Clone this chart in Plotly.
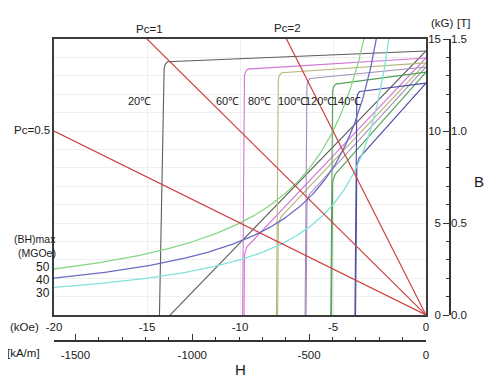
import numpy as np
import plotly.graph_objects as go

# ---------------- data ----------------
temps = ['20℃', '60℃', '80℃', '100℃', '120℃', '140℃']
br_kg = [14.35, 13.97, 13.70, 13.48, 13.20, 12.60]        # J = B at H = 0
jknee_kg = [13.80, 13.40, 13.20, 12.90, 12.60, 12.20]     # J just before the knee
hcj_koe = [-14.08, -9.76, -7.94, -6.40, -5.02, -3.72]     # knee (intrinsic coercivity)
hdrop_koe = [0.25, 0.10, 0.10, 0.10, 0.10, 0.10]          # drift of the drop down to J = 0
temp_label_h = [-15.42, -10.69, -8.97, -7.19, -5.74, -4.28]
temp_label_b = 11.64
temp_colors = ['#5c5c5c', '#d274d6', '#b6b67c', '#a38cba', '#55a055', '#4a4aa6']

bhmax_mgoe = [50, 40, 30]
bh_colors = ['#86d886', '#6c6cc4', '#84e2d8']

pc_values = [0.5, 1, 2]
pc_color = '#cc4242'

koe_ticks = [-20, -15, -10, -5, 0]
koe_labels = ['-20', '-15', '-10', '-5', '0']
kam_ticks = [-1500, -1000, -500, 0]
kam_labels = ['-1500', '-1000', '-500', '0']
kg_ticks = [0, 5, 10, 15]
t_ticks = [0, 0.5, 1.0, 1.5]
KAM_PER_KOE = 79.5775

# page has an 8 px body margin: draw a 492x372 figure placed at (8, 8)
OFF = 8
W, HGT = 492, 372
PL, PR, PT, PB = 54, 426, 39, 315   # plot box in window pixels


def px(x):
    return (x - OFF) / W


def py(y):
    return 1 - (y - OFF) / HGT


fig = go.Figure()

# ---------------- demagnetization curves ----------------
for name, br, jk, hk, dh, col in zip(temps, br_kg, jknee_kg, hcj_koe, hdrop_koe, temp_colors):
    rx, ry = 0.30, 0.45
    h_line = np.array([0.0, hk + rx])
    j_line = np.array([br, jk])
    t = np.linspace(np.pi / 2, np.pi, 24)
    h_arc = hk + rx + rx * np.cos(t)
    j_arc = jk - ry + ry * np.sin(t)
    h_drop = np.array([hk - dh])
    j_drop = np.array([0.0])
    h = np.concatenate([h_line, h_arc, h_drop])
    j = np.concatenate([j_line, j_arc, j_drop])
    b = j + h  # B = J + H (kG, kOe)
    fig.add_trace(go.Scatter(x=h, y=j, mode='lines', line=dict(color=col, width=1.1),
                             hoverinfo='skip', showlegend=False))
    fig.add_trace(go.Scatter(x=h, y=b, mode='lines', line=dict(color=col, width=1.1),
                             hoverinfo='skip', showlegend=False))

# ---------------- (BH)max hyperbolas ----------------
for bh, col in zip(bhmax_mgoe, bh_colors):
    h = np.linspace(-20, -bh / 15.3, 300)
    b = -bh / h
    fig.add_trace(go.Scatter(x=h, y=b, mode='lines', line=dict(color=col, width=1.3),
                             hoverinfo='skip', showlegend=False))

# ---------------- permeance (load) lines ----------------
for pc in pc_values:
    h = np.array([-20.0, 0.0])
    fig.add_trace(go.Scatter(x=h, y=-pc * h, mode='lines', line=dict(color=pc_color, width=1.2),
                             hoverinfo='skip', showlegend=False))

# dummy traces so that the secondary axes are drawn
fig.add_trace(go.Scatter(x=[-1000], y=[5], xaxis='x2', yaxis='y', mode='markers',
                         marker=dict(opacity=0), hoverinfo='skip', showlegend=False))
fig.add_trace(go.Scatter(x=[-10], y=[5], xaxis='x', yaxis='y2', mode='markers',
                         marker=dict(opacity=0), hoverinfo='skip', showlegend=False))
fig.add_trace(go.Scatter(x=[-10], y=[0.5], xaxis='x', yaxis='y3', mode='markers',
                         marker=dict(opacity=0), hoverinfo='skip', showlegend=False))

FONT = 'Liberation Sans, Arial, sans-serif'
TXT = '#1a1a1a'

annotations = []
for name, hx in zip(temps, temp_label_h):
    annotations.append(dict(x=hx, y=temp_label_b, xref='x', yref='y', text=name, showarrow=False,
                            font=dict(size=11, color=TXT)))

def pa(text, x, y, size=11.5, xanchor='center'):
    annotations.append(dict(x=px(x), y=py(y), xref='paper', yref='paper', text=text, showarrow=False,
                            xanchor=xanchor, yanchor='middle', font=dict(size=size, color=TXT)))

pa('Pc=1', 149, 29)
pa('Pc=2', 287, 28)
pa('Pc=0.5', 32, 130)
pa('(kG)', 442, 23)
pa('[T]', 463, 23)
pa('B', 479, 181, size=15)
pa('(kOe)', 24, 327)
pa('[kA/m]', 23, 353)
pa('H', 240, 369, size=15)
pa('(BH)max', 35, 239, size=10.5)
pa('(MGOe)', 37, 253, size=10.5)
for v, yy in zip(bhmax_mgoe, [267, 280, 293]):
    pa(str(v), 43, yy, size=12)

xdom = [px(PL), px(PR)]
ydom = [py(PB), py(PT)]

fig.update_layout(
    width=W, height=HGT,
    margin=dict(l=0, r=0, t=0, b=0, pad=0, autoexpand=False),
    paper_bgcolor='white', plot_bgcolor='white',
    font=dict(family=FONT, size=11.5, color=TXT),
    showlegend=False,
    annotations=annotations,
    xaxis=dict(domain=xdom, range=[-20, 0], tickmode='array', tickvals=koe_ticks, ticktext=koe_labels,
               ticks='', showgrid=True, gridcolor='#efefef', gridwidth=1,
               showline=True, mirror=True, linecolor='#3c3c3c', linewidth=2,
               zeroline=False, tickfont=dict(size=11.5, color=TXT), anchor='y', automargin=False),
    yaxis=dict(domain=ydom, range=[0, 15], dtick=1, showticklabels=False, ticks='',
               showgrid=True, gridcolor='#efefef', gridwidth=1,
               showline=True, mirror=True, linecolor='#3c3c3c', linewidth=2,
               zeroline=False, anchor='x', automargin=False),
    xaxis2=dict(overlaying='x', anchor='free', position=py(341), side='bottom',
                range=[-20 * KAM_PER_KOE, 0], tickmode='array', tickvals=kam_ticks, ticktext=kam_labels,
                ticks='inside', ticklen=6, tickwidth=1, tickcolor='#333',
                minor=dict(dtick=100, tick0=0, ticks='inside', ticklen=3, tickcolor='#333'),
                showline=True, linecolor='#333', linewidth=1.5, showgrid=False, zeroline=False,
                ticklabelstandoff=3,
                tickfont=dict(size=11.5, color=TXT), automargin=False),
    yaxis2=dict(overlaying='y', anchor='free', position=px(450), side='left',
                range=[0, 15], tickmode='array', tickvals=kg_ticks,
                ticks='outside', ticklen=6, tickwidth=1, tickcolor='#333',
                minor=dict(dtick=1, tick0=0, ticks='outside', ticklen=3, tickcolor='#333'),
                showline=True, linecolor='#333', linewidth=1.5, showgrid=False, zeroline=False,
                tickfont=dict(size=11.5, color=TXT), automargin=False),
    yaxis3=dict(overlaying='y', anchor='free', position=px(450), side='right',
                range=[0, 1.5], tickmode='array', tickvals=t_ticks, tickformat='.1f',
                ticks='', showline=False, showgrid=False, zeroline=False,
                tickfont=dict(size=11.5, color=TXT), automargin=False),
)

fig.write_html('out.html')
